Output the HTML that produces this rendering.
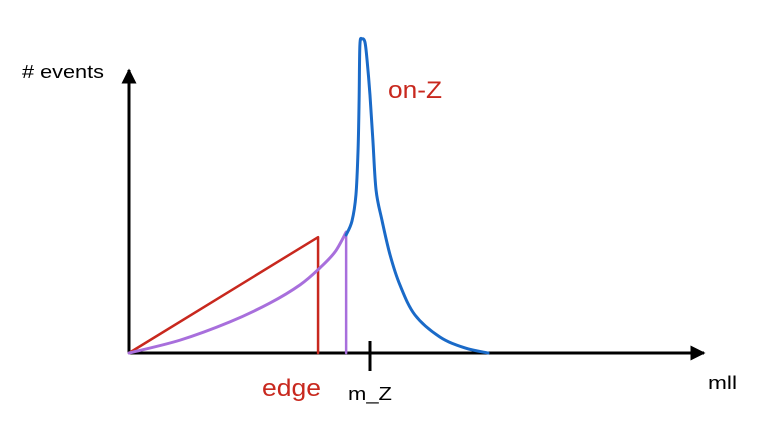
<!DOCTYPE html>
<html><head><meta charset="utf-8"><style>
html,body{margin:0;padding:0;background:#fff;}
svg{display:block;font-family:"Liberation Sans",sans-serif;}
</style></head><body>
<svg id="chart" width="758" height="440" viewBox="0 0 758 440">
<defs><marker id="arr" viewBox="0 0 10 10" refX="9" refY="5" markerWidth="5" markerHeight="5" orient="auto"><path d="M0,0L10,5L0,10z" fill="#000"/></marker></defs>
<line x1="129" y1="353" x2="129" y2="70" stroke="#000" stroke-width="3" marker-end="url(#arr)"/>
<line x1="129" y1="353" x2="704" y2="353" stroke="#000" stroke-width="3" marker-end="url(#arr)"/>
<line x1="370" y1="341" x2="370" y2="371" stroke="#000" stroke-width="3"/>
<text x="22" y="78" font-size="18" textLength="82" lengthAdjust="spacingAndGlyphs" fill="#000"># events</text>
<text x="708" y="389" font-size="18" textLength="29" lengthAdjust="spacingAndGlyphs" fill="#000">mll</text>
<text x="348" y="400" font-size="18" textLength="44" lengthAdjust="spacingAndGlyphs" fill="#000">m_Z</text>
<text x="262" y="396" font-size="24" textLength="59" lengthAdjust="spacingAndGlyphs" fill="#c8281e">edge</text>
<text x="388" y="98" font-size="24" textLength="54" lengthAdjust="spacingAndGlyphs" fill="#c8281e">on-Z</text>
<g id="marks"></g>
</svg>
<script>
const blueX=[82,84.2,85.7,86.5,86.9,87.2,88,89.1,89.9,91,92.1,93.3,95.5,98.6,102.3,108,117.4,126.9,135.6];
const blueY=[37.6,42,50.3,64.6,80.6,98.1,100,99,93.3,82.2,67.8,51.9,42.4,31.2,21.7,12.1,5.1,1.6,0];
const purpleX=[0,19.3,38.1,53.2,64.6,72.1,77.8,82];
const purpleY=[0,4.1,9.9,15.9,21.7,27.1,32.2,38.5];
const edgeX=[0,71.4,71.4];
const edgeY=[0,36.9,0];
const purpleDropX=[82,82];
const purpleDropY=[38.5,0];
function sx(v){return 129+v*2.648;}
function sy(v){return 353-v*3.14;}
const g=document.getElementById('marks');
function smooth(xs,ys){
  const p=xs.map((x,i)=>[sx(x),sy(ys[i])]);
  let d='M'+p[0][0]+','+p[0][1];
  for(let i=0;i<p.length-1;i++){
    const p0=p[i-1]||p[i],p1=p[i],p2=p[i+1],p3=p[i+2]||p2;
    const c1=[p1[0]+(p2[0]-p0[0])/6,p1[1]+(p2[1]-p0[1])/6];
    const c2=[p2[0]-(p3[0]-p1[0])/6,p2[1]-(p3[1]-p1[1])/6];
    d+=' C'+c1+' '+c2+' '+p2;
  }
  return d;
}
function poly(xs,ys){return 'M'+xs.map((x,i)=>sx(x)+','+sy(ys[i])).join(' L');}
function add(d,color,w,name){
  const el=document.createElementNS('http://www.w3.org/2000/svg','path');
  el.setAttribute('d',d);el.setAttribute('fill','none');el.setAttribute('stroke',color);
  el.setAttribute('stroke-width',w);el.setAttribute('stroke-linejoin','round');el.setAttribute('stroke-linecap','round');
  
  
  g.appendChild(el);
}
add(poly(edgeX,edgeY),'#c8281e',2.5,'edge-triangle');
add(poly(purpleDropX,purpleDropY),'#a86fdc',2.5,'purple-drop');
add(smooth(purpleX,purpleY),'#a86fdc',3,'purple-curve');
add(smooth(blueX,blueY),'#1a6ac8',3,'on-z-peak');
</script>
</body></html>
